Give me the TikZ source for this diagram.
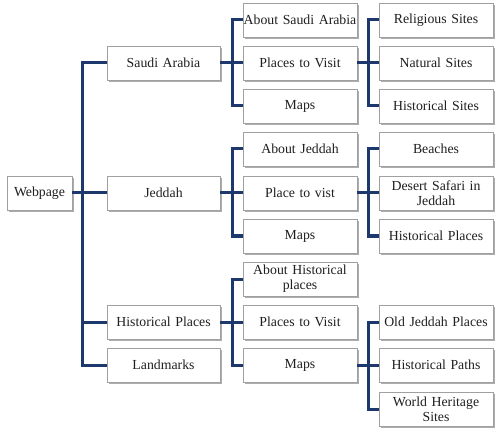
\documentclass[tikz,border=0pt]{standalone}
\usepackage{fontspec}
\setmainfont{Liberation Serif}
\usetikzlibrary{shadows}
\definecolor{navy}{HTML}{1C386C}
\definecolor{boxline}{HTML}{A0A0A0}
\begin{document}
\begin{tikzpicture}[x=1pt,y=-1pt,
  box/.style={draw=boxline, line width=0.8pt, fill=white, minimum height=34pt,
    inner xsep=0pt, inner ysep=1pt, align=center, text=black!88,
    font=\fontsize{13.8}{15}\selectfont,
    drop shadow={shadow xshift=1.6pt, shadow yshift=-1.8pt, fill=black!40, opacity=0.8}},
  rootbox/.style={box, minimum width=65pt, text width=65pt},
  lvlone/.style={box, minimum width=113pt, text width=113pt},
  lvltwo/.style={box, minimum width=114pt, text width=114pt},
  conn/.style={draw=navy, line width=3pt}]
\useasboundingbox (0,0) rectangle (500,438);
% root
\node[rootbox] (web) at (39.5,193) {Webpage};
% level 1
\node[lvlone] (sa) at (163.5,63) {Saudi Arabia};
\node[lvlone] (jd) at (163.5,193) {Jeddah};
\node[lvlone] (hp) at (163.5,322) {Historical Places};
\node[lvlone] (lm) at (163.5,365) {Landmarks};
% level 2
\node[lvltwo] (asa) at (300,20) {About Saudi Arabia};
\node[lvltwo] (pvs) at (300,63) {Places to Visit};
\node[lvltwo] (msa) at (300,106) {Maps};
\node[lvltwo] (ajd) at (300,149) {About Jeddah};
\node[lvltwo] (pvj) at (300,193) {Place to vist};
\node[lvltwo] (mjd) at (300,236) {Maps};
\node[lvltwo] (ahp) at (300,279) {About Historical\\places};
\node[lvltwo] (pvh) at (300,322) {Places to Visit};
\node[lvltwo] (mhp) at (300,365) {Maps};
% level 3
\node[lvltwo] (rs) at (436,20) {Religious Sites};
\node[lvltwo] (ns) at (436,63) {Natural Sites};
\node[lvltwo] (hs) at (436,106) {Historical Sites};
\node[lvltwo] (be) at (436,149) {Beaches};
\node[lvltwo] (ds) at (436,193) {Desert Safari in\\Jeddah};
\node[lvltwo] (hpl) at (436,236) {Historical Places};
\node[lvltwo] (oj) at (436,322) {Old Jeddah Places};
\node[lvltwo] (hpa) at (436,365) {Historical Paths};
\node[lvltwo] (wh) at (436,409) {World Heritage\\Sites};
% connectors
\foreach \c in {sa,jd,hp,lm} \draw[conn] (web.east) -- ++(9.7,0) |- (\c.west);
\foreach \c in {asa,pvs,msa} \draw[conn] (sa.east) -- ++(11.7,0) |- (\c.west);
\foreach \c in {ajd,pvj,mjd} \draw[conn] (jd.east) -- ++(11.7,0) |- (\c.west);
\foreach \c in {ahp,pvh,mhp} \draw[conn] (hp.east) -- ++(11.7,0) |- (\c.west);
\foreach \c in {rs,ns,hs} \draw[conn] (pvs.east) -- ++(11,0) |- (\c.west);
\foreach \c in {be,ds,hpl} \draw[conn] (pvj.east) -- ++(11,0) |- (\c.west);
\foreach \c in {oj,hpa,wh} \draw[conn] (mhp.east) -- ++(11,0) |- (\c.west);
\end{tikzpicture}
\end{document}
